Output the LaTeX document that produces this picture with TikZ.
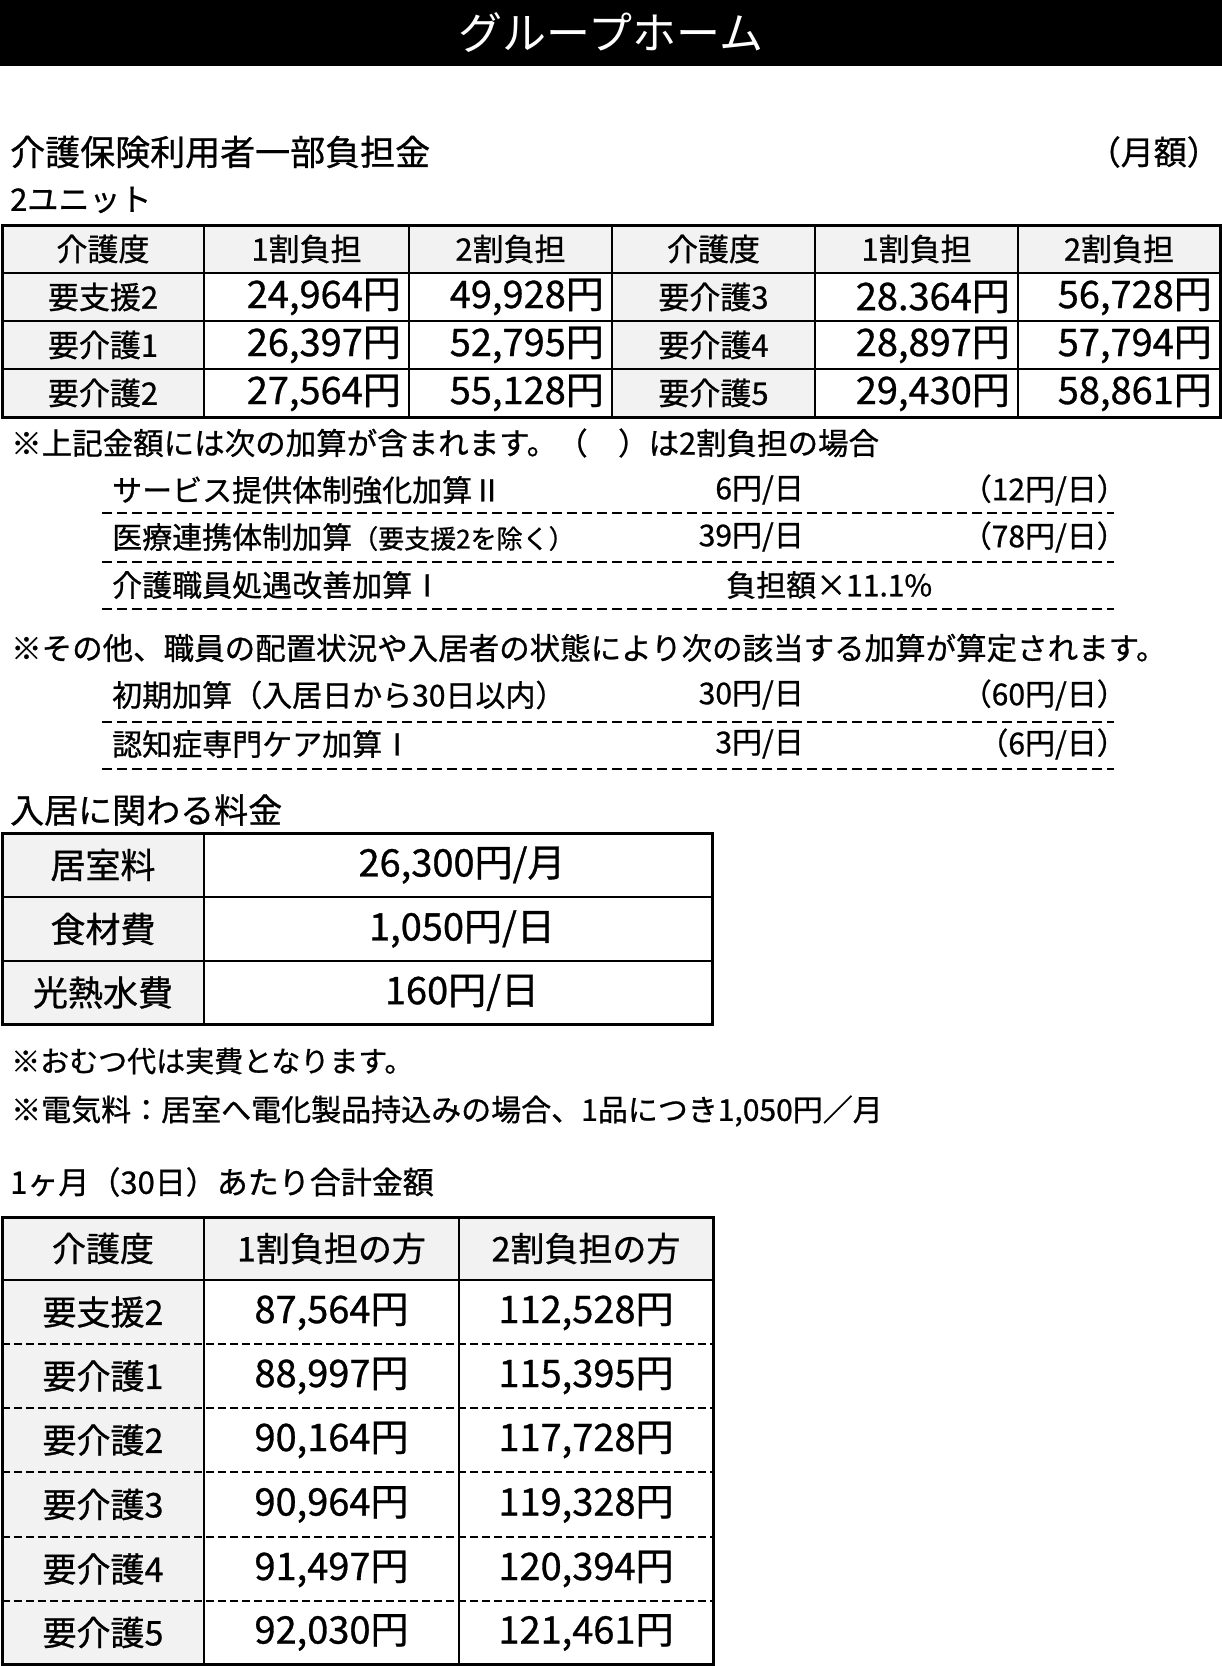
\documentclass[tikz,border=0pt]{standalone}
\usepackage{fontspec}
\setmainfont{Noto Sans CJK JP}[FakeBold=0.8]
\newfontfamily\thinjp{Noto Sans CJK JP}
\usetikzlibrary{positioning}
\definecolor{cellgray}{HTML}{F2F2F2}
\newcommand{\fsz}[1]{\fontsize{#1}{#1}\selectfont}
\tikzset{node distance=2.5cm, auto,
  txt/.style={anchor=west, inner sep=0pt},
  cell/.style={inner sep=0pt},
  grid/.style={line width=2pt},
  frame/.style={line width=3pt},
  dots/.style={line width=2pt, dash pattern=on 10pt off 5pt},
  rowdash/.style={line width=2pt, dash pattern=on 8pt off 4pt}}

\begin{document}
\begin{tikzpicture}[x=1pt, y=-1pt]
\useasboundingbox (0,0) rectangle (1222,1666);
\fill[black] (0,0) rectangle (1222,66);
\node[cell, font=\thinjp\fsz{44}, text=white] (title) at (611,33) {グループホーム};

\node[txt, font=\fsz{35}] (head1) at (10,152) {介護保険利用者一部負担金};
\node[cell, anchor=east, font=\fsz{33}] (month) at (1220,152) {（月額）};
\node[txt, font=\fsz{31}] (unit) at (10,200) {2ユニット};

\fill[cellgray] (2,225) rectangle (1220,273);
\fill[cellgray] (2,273) rectangle (204,417);
\fill[cellgray] (612,273) rectangle (815,417);
\foreach \y in {273,321,369} \draw[grid] (2,\y) -- (1220,\y);
\foreach \x in {204,409,612,815,1018} \draw[grid] (\x,225) -- (\x,417);
\draw[frame] (2,225) rectangle (1220,417);
\foreach \t/\x [count=\i] in {介護度/103,1割負担/306.5,2割負担/510.5,介護度/713.5,1割負担/916.5,2割負担/1119}
  \node[cell, font=\fsz{31}] (h\i) at (\x,249) {\t};
\foreach \la/\va/\vb/\lb/\vc/\vd/\y [count=\i] in {
  要支援2/24{,}964円/49{,}928円/要介護3/28.364円/56{,}728円/297,
  要介護1/26{,}397円/52{,}795円/要介護4/28{,}897円/57{,}794円/345,
  要介護2/27{,}564円/55{,}128円/要介護5/29{,}430円/58{,}861円/393} {
  \node[cell, font=\fsz{31}] (la\i) at (103,\y) {\la};
  \node[cell, anchor=east, font=\fsz{38}] (va\i) at (401,\y) {\va};
  \node[cell, anchor=east, font=\fsz{38}] (vb\i) at (604,\y) {\vb};
  \node[cell, font=\fsz{31}] (lb\i) at (713.5,\y) {\lb};
  \node[cell, anchor=east, font=\fsz{38}] (vc\i) at (1010,\y) {\vc};
  \node[cell, anchor=east, font=\fsz{38}] (vd\i) at (1212,\y) {\vd};
}

\node[txt, font=\fsz{30.5}] (note1) at (11,443) {※上記金額には次の加算が含まれます。（　）は2割負担の場合};
\node[txt, font=\fsz{30}] (add1) at (112,490) {サービス提供体制強化加算Ⅱ};
\node[cell, anchor=east, font=\fsz{30}] (add1a) at (804,490) {6円/日};
\node[cell, anchor=east, font=\fsz{30}] (add1b) at (1127,490) {（12円/日）};
\node[txt, font=\fsz{30}] (add2) at (112,537) {医療連携体制加算{\fsz{26}（要支援2を除く）}};
\node[cell, anchor=east, font=\fsz{30}] (add2a) at (804,537) {39円/日};
\node[cell, anchor=east, font=\fsz{30}] (add2b) at (1127,537) {（78円/日）};
\node[txt, font=\fsz{30}] (add3) at (112,585) {介護職員処遇改善加算Ⅰ};
\node[txt, font=\fsz{30}] (add3a) at (726,585) {負担額×11.1\%};
\foreach \y in {513,562,609} \draw[dots] (102,\y) -- (1114,\y);

\node[txt, font=\fsz{30.5}] (note2) at (11,648) {※その他、職員の配置状況や入居者の状態により次の該当する加算が算定されます。};
\node[txt, font=\fsz{30}] (add4) at (112,695) {初期加算（入居日から30日以内）};
\node[cell, anchor=east, font=\fsz{30}] (add4a) at (804,695) {30円/日};
\node[cell, anchor=east, font=\fsz{30}] (add4b) at (1127,695) {（60円/日）};
\node[txt, font=\fsz{30}] (add5) at (112,744) {認知症専門ケア加算Ⅰ};
\node[cell, anchor=east, font=\fsz{30}] (add5a) at (804,744) {3円/日};
\node[cell, anchor=east, font=\fsz{30}] (add5b) at (1127,744) {（6円/日）};
\foreach \y in {722,769} \draw[dots] (102,\y) -- (1114,\y);

\node[txt, font=\fsz{34}] (head2) at (10,810) {入居に関わる料金};
\fill[cellgray] (2,833) rectangle (204,1024);
\foreach \y in {897,961} \draw[grid] (2,\y) -- (712,\y);
\draw[grid] (204,833) -- (204,1024);
\draw[frame] (2,833) rectangle (712,1024);
\foreach \la/\va/\y [count=\i] in {居室料/{26{,}300円/月}/865, 食材費/{1{,}050円/日}/929, 光熱水費/{160円/日}/992.5} {
  \node[cell, font=\fsz{35}] (fee\i) at (103,\y) {\la};
  \node[cell, font=\fsz{38}] (cost\i) at (462,\y) {\va};
}

\node[txt, font=\fsz{29}] (note3) at (11,1061) {※おむつ代は実費となります。};
\node[txt, font=\fsz{30}] (note4) at (11,1111) {※電気料：居室へ電化製品持込みの場合、1品につき1,050円／月};

\node[txt, font=\fsz{31}] (head3) at (10,1182) {1ヶ月（30日）あたり合計金額};
\fill[cellgray] (2,1217) rectangle (713,1280);
\fill[cellgray] (2,1280) rectangle (204,1664);
\foreach \y in {1344,1408,1472,1537,1601} \draw[rowdash] (2,\y) -- (713,\y);
\draw[grid] (2,1280) -- (713,1280);
\foreach \x in {204,459} \draw[grid] (\x,1217) -- (\x,1664);
\draw[frame] (2,1217) rectangle (713,1664);
\foreach \t/\x [count=\i] in {介護度/103,1割負担の方/331.5,2割負担の方/586}
  \node[cell, font=\fsz{34}] (th\i) at (\x,1248.5) {\t};
\foreach \la/\va/\vb/\y [count=\i] in {
  要支援2/87{,}564円/112{,}528円/1312,
  要介護1/88{,}997円/115{,}395円/1376,
  要介護2/90{,}164円/117{,}728円/1440,
  要介護3/90{,}964円/119{,}328円/1504.5,
  要介護4/91{,}497円/120{,}394円/1569,
  要介護5/92{,}030円/121{,}461円/1632.5} {
  \node[cell, font=\fsz{34}] (tl\i) at (103,\y) {\la};
  \node[cell, font=\fsz{38}] (ta\i) at (331.5,\y) {\va};
  \node[cell, font=\fsz{38}] (tb\i) at (586,\y) {\vb};
}
\end{tikzpicture}
\end{document}
